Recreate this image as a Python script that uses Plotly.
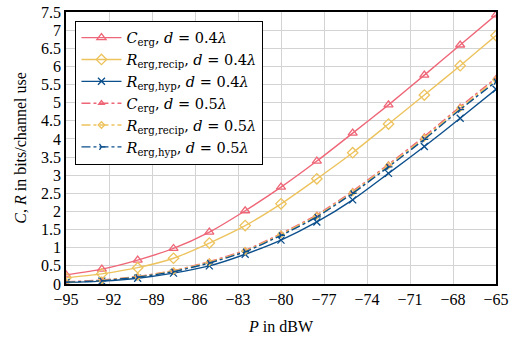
import plotly.graph_objects as go

P_dBW = [-95, -92.5, -90, -87.5, -85, -82.5, -80, -77.5, -75, -72.5, -70, -67.5, -65]

C_erg_04 = [0.25, 0.41, 0.66, 0.98, 1.43, 2.02, 2.67, 3.39, 4.16, 4.94, 5.76, 6.59, 7.42]
R_recip_04 = [0.17, 0.28, 0.45, 0.71, 1.13, 1.61, 2.21, 2.90, 3.62, 4.41, 5.21, 6.02, 6.85]
R_hyp_04 = [0.04, 0.08, 0.16, 0.30, 0.50, 0.82, 1.21, 1.71, 2.32, 3.05, 3.79, 4.57, 5.37]
C_erg_05 = [0.06, 0.11, 0.21, 0.37, 0.62, 0.93, 1.39, 1.91, 2.56, 3.30, 4.07, 4.89, 5.68]
R_recip_05 = [0.05, 0.10, 0.20, 0.36, 0.60, 0.91, 1.37, 1.88, 2.53, 3.27, 4.03, 4.85, 5.63]
R_hyp_05 = [0.05, 0.09, 0.19, 0.34, 0.58, 0.89, 1.34, 1.85, 2.50, 3.23, 3.99, 4.81, 5.58]

x_ticks = [-95, -92, -89, -86, -83, -80, -77, -74, -71, -68, -65]
y_ticks = [i * 0.5 for i in range(16)]

RED = "#EE6677"
YEL = "#EDC35E"
BLU = "#0B4F8C"

series = [
    (C_erg_04, "<i>C</i><sub>erg</sub>, <i>d</i> = 0.4<i>λ</i>", RED, "solid", "triangle-up-open", 8),
    (R_recip_04, "<i>R</i><sub>erg,recip</sub>, <i>d</i> = 0.4<i>λ</i>", YEL, "solid", "diamond-open", 8),
    (R_hyp_04, "<i>R</i><sub>erg,hyp</sub>, <i>d</i> = 0.4<i>λ</i>", BLU, "solid", "x-thin-open", 7),
    (C_erg_05, "<i>C</i><sub>erg</sub>, <i>d</i> = 0.5<i>λ</i>", RED, "dashdot", "triangle-up-open", 5),
    (R_recip_05, "<i>R</i><sub>erg,recip</sub>, <i>d</i> = 0.5<i>λ</i>", YEL, "dashdot", "diamond-open", 5),
    (R_hyp_05, "<i>R</i><sub>erg,hyp</sub>, <i>d</i> = 0.5<i>λ</i>", BLU, "dashdot", "y-right-open", 5),
]

fig = go.Figure()
for vals, name, col, dash, sym, size in series:
    fig.add_trace(go.Scatter(
        x=P_dBW, y=vals, name=name, mode="lines+markers",
        line=dict(color=col, width=1.4, dash=dash, shape="spline", smoothing=0.6),
        marker=dict(symbol=sym, size=size, color=col, line=dict(color=col, width=1.3)),
    ))

FONT = "Liberation Serif, DejaVu Serif, serif"
LFONT = "DejaVu Serif, serif"
fig.update_layout(
    width=519, height=339,
    margin=dict(l=66, r=23, t=12, b=55),
    paper_bgcolor="white", plot_bgcolor="white",
    font=dict(family=FONT, size=16, color="black"),
    legend=dict(
        x=0.022, y=0.968, xanchor="left", yanchor="top",
        bgcolor="white", bordercolor="black", borderwidth=1,
        font=dict(family=LFONT, size=14.5, color="black"), itemwidth=40, tracegroupgap=0,
    ),
    xaxis=dict(
        range=[-95, -65], tickvals=x_ticks,
        ticktext=[f"\u2212{abs(v)}" for v in x_ticks],
        tickfont=dict(family=FONT, size=16, color="black"),
        showgrid=True, gridcolor="#d3d3d3", gridwidth=1,
        showline=True, linecolor="black", linewidth=1.5, mirror=True,
        zeroline=False, ticks="", automargin=False,
        title=dict(text="<i>P</i> in dBW", standoff=14, font=dict(family=FONT, size=16, color="black")),
    ),
    yaxis=dict(
        range=[0, 7.5], tickvals=y_ticks,
        ticktext=[f"{v:g}" for v in y_ticks],
        tickfont=dict(family=FONT, size=16, color="black"),
        showgrid=True, gridcolor="#d3d3d3", gridwidth=1,
        showline=True, linecolor="black", linewidth=1.5, mirror=True,
        zeroline=False, ticks="", automargin=False,
        title=dict(text="<i>C</i>, <i>R</i> in bits/channel use", standoff=10, font=dict(family=FONT, size=16, color="black")),
    ),
)

fig.write_html("out.html")
